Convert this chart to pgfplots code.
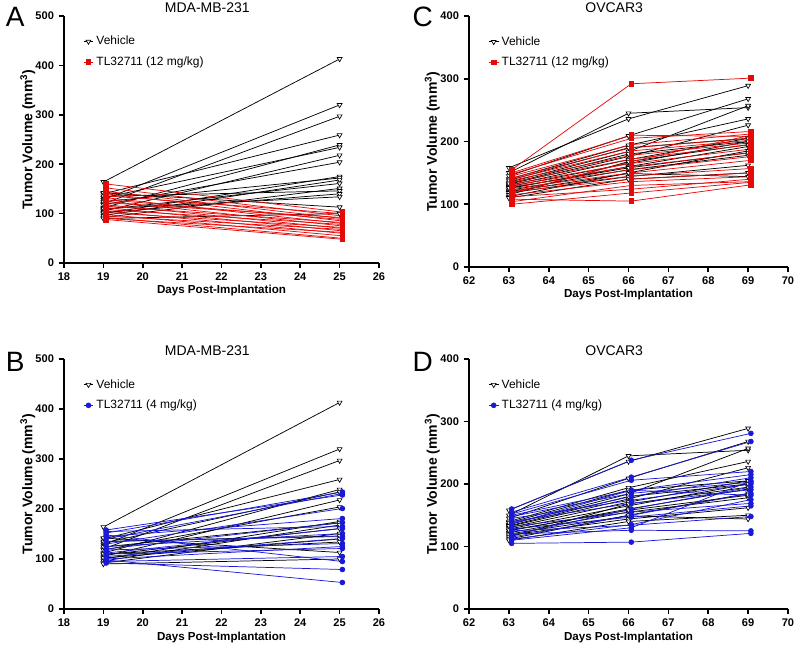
\documentclass[border=0pt]{standalone}
\usepackage{pgfplots}
\pgfplotsset{compat=1.18}
\usepackage{pgfplotstable}
\usepackage{fontspec}
\setmainfont{Liberation Sans}
\definecolor{tred}{RGB}{228,10,10}
\definecolor{tblue}{RGB}{25,25,215}

% Vehicle, MDA-MB-231 (days 19, 25)
\pgfplotstableread{
day m1 m2 m3 m4 m5 m6 m7 m8 m9 m10 m11 m12 m13 m14 m15 m16 m17 m18
19 164 128 120 140 112 132 105 118 100 124 96 108 92 135 102 110 142 90
25 413 320 297 259 239 234 218 204 175 172 168 161 151 146 140 134 113 100
}\vehAB
% TL32711 12 mg/kg, MDA-MB-231
\pgfplotstableread{
day m1 m2 m3 m4 m5 m6 m7 m8 m9 m10 m11 m12 m13 m14 m15 m16 m17 m18 m19 m20
19 160 152 145 140 136 132 128 125 122 118 115 112 108 105 102 98 95 92 90 88
25 103 95 90 85 100 80 88 75 92 70 82 65 78 60 72 55 68 50 62 48
}\redA
% TL32711 4 mg/kg, MDA-MB-231
\pgfplotstableread{
day m1 m2 m3 m4 m5 m6 m7 m8 m9 m10 m11 m12 m13 m14 m15 m16 m17 m18
19 152 140 158 130 145 120 155 112 125 135 105 118 100 110 95 148 92 98
25 234 231 228 201 181 173 165 161 151 145 141 131 125 121 105 95 79 53
}\blueB
% Vehicle, OVCAR3 (days 63, 66, 69)
\pgfplotstableread{
day m1 m2 m3 m4 m5 m6 m7 m8 m9 m10 m11 m12 m13 m14 m15 m16 m17 m18
63 158 150 145 140 135 132 130 128 125 122 120 118 115 112 138 126 110 133
66 236 245 209 194 184 176 171 165 160 155 149 144 168 150 190 158 140 180
69 289 254 268 236 257 226 205 200 192 178 144 162 195 185 205 182 150 200
}\vehCD
% TL32711 12 mg/kg, OVCAR3
\pgfplotstableread{
day m1 m2 m3 m4 m5 m6 m7 m8 m9 m10 m11 m12 m13 m14 m15 m16 m17 m18 m19 m20
63 155 150 148 145 142 140 138 135 132 130 128 125 122 120 115 112 108 104 100 118
66 292 210 205 195 190 185 178 172 165 160 155 150 145 140 136 124 105 130 118 168
69 301 208 216 212 205 202 198 195 188 182 176 170 157 150 144 140 131 136 135 210
}\redC
% TL32711 4 mg/kg, OVCAR3
\pgfplotstableread{
day m1 m2 m3 m4 m5 m6 m7 m8 m9 m10 m11 m12 m13 m14 m15 m16 m17 m18
63 160 155 152 150 148 145 140 136 132 128 125 120 105 118 115 112 110 138
66 238 211 206 190 185 174 169 190 155 147 134 126 107 160 150 135 130 180
69 281 268 220 215 203 200 191 182 169 165 148 125 121 195 185 175 205 210
}\blueD

\pgfplotsset{
  panel/.style={
    scale only axis,
    axis x line*=bottom, axis y line*=left,
    axis line style={line width=1.3pt, -},
    major tick style={line width=1.3pt, black},
    tick align=outside,
    major tick length=4pt,
    xticklabel={\textbf{\pgfmathprintnumber[assume math mode=true]{\tick}}},
    yticklabel={\textbf{\pgfmathprintnumber[assume math mode=true]{\tick}}},
    ticklabel style={font=\fontsize{8.3}{9}\selectfont},
    ylabel={Tumor Volume (mm\textsuperscript{3})},
    xlabel={Days Post-Implantation},
    xlabel style={font=\fontsize{8.7}{10}\selectfont\bfseries, at={(axis description cs:0.5,0)}, yshift=-21pt, anchor=center},
    ylabel style={font=\fontsize{10.5}{12}\selectfont\bfseries, at={(axis description cs:-0.115,0.5)}, anchor=center},
    title style={font=\fontsize{10.5}{12}\selectfont, at={(axis description cs:0.455,1)}, anchor=center},
    legend style={draw=none, fill=none, at={(axis description cs:0.06,0.93)}, anchor=north west,
      font=\fontsize{9}{11}\selectfont, row sep=3.4pt, inner sep=0pt},
    legend cell align=left,
    legend image code/.code={\draw[##1, mark repeat=2, mark phase=2] plot coordinates {(0cm,0cm) (0.13cm,0cm) (0.26cm,0cm)};},
  },
  veh/.style={black, line width=0.55pt, mark=triangle*, mark size=2.1pt, mark options={rotate=180, fill=white, solid, line width=0.5pt}},
  redt/.style={tred, line width=0.55pt, mark=square*, mark size=1.8pt, mark options={solid}},
  bluet/.style={tblue, line width=0.55pt, mark=*, mark size=1.8pt, mark options={solid}},
}

\begin{document}
\begin{tikzpicture}
% ---------- A ----------
\begin{axis}[panel, at={(48pt,290.25pt)}, anchor=south west,
  width=236.25pt, height=185.25pt,
  xmin=18, xmax=26, ymin=0, ymax=500,
  xtick={18,...,26}, ytick={0,100,...,500},
  title={MDA-MB-231}]
\addlegendimage{veh}
\addlegendentry{Vehicle}
\addlegendimage{redt}
\addlegendentry{TL32711 (12 mg/kg)}
\pgfplotsinvokeforeach{1,...,18}{\addplot[veh, forget plot] table[x=day, y=m#1]{\vehAB};}
\pgfplotsinvokeforeach{1,...,20}{\addplot[redt, forget plot] table[x expr=\thisrow{day}+0.07, y=m#1]{\redA};}
\end{axis}
% ---------- B ----------
\begin{axis}[panel, at={(48pt,30.75pt)}, anchor=south west,
  width=236.25pt, height=187.5pt,
  xmin=18, xmax=26, ymin=0, ymax=500,
  xtick={18,...,26}, ytick={0,100,...,500},
  title={MDA-MB-231}]
\addlegendimage{veh}
\addlegendentry{Vehicle}
\addlegendimage{bluet}
\addlegendentry{TL32711 (4 mg/kg)}
\pgfplotsinvokeforeach{1,...,18}{\addplot[veh, forget plot] table[x=day, y=m#1]{\vehAB};}
\pgfplotsinvokeforeach{1,...,18}{\addplot[bluet, forget plot] table[x expr=\thisrow{day}+0.07, y=m#1]{\blueB};}
\end{axis}
% ---------- C ----------
\begin{axis}[panel, at={(351.75pt,287.25pt)}, anchor=south west,
  width=239.25pt, height=188.25pt,
  xmin=62, xmax=70, ymin=0, ymax=400,
  xtick={62,...,70}, ytick={0,100,...,400},
  title={OVCAR3}]
\addlegendimage{veh}
\addlegendentry{Vehicle}
\addlegendimage{redt}
\addlegendentry{TL32711 (12 mg/kg)}
\pgfplotsinvokeforeach{1,...,18}{\addplot[veh, forget plot] table[x=day, y=m#1]{\vehCD};}
\pgfplotsinvokeforeach{1,...,20}{\addplot[redt, forget plot] table[x expr=\thisrow{day}+0.07, y=m#1]{\redC};}
\end{axis}
% ---------- D ----------
\begin{axis}[panel, at={(351.75pt,30.75pt)}, anchor=south west,
  width=239.25pt, height=187.5pt,
  xmin=62, xmax=70, ymin=0, ymax=400,
  xtick={62,...,70}, ytick={0,100,...,400},
  title={OVCAR3}]
\addlegendimage{veh}
\addlegendentry{Vehicle}
\addlegendimage{bluet}
\addlegendentry{TL32711 (4 mg/kg)}
\pgfplotsinvokeforeach{1,...,18}{\addplot[veh, forget plot] table[x=day, y=m#1]{\vehCD};}
\pgfplotsinvokeforeach{1,...,18}{\addplot[bluet, forget plot] table[x expr=\thisrow{day}+0.07, y=m#1]{\blueD};}
\end{axis}
% panel letters
\node[font=\fontsize{21}{21}\selectfont] at (11.5pt,474.5pt) {A};
\node[font=\fontsize{21}{21}\selectfont] at (11.5pt,216pt) {B};
\node[font=\fontsize{21}{21}\selectfont] at (317pt,474.5pt) {C};
\node[font=\fontsize{21}{21}\selectfont] at (317pt,216pt) {D};
\pgfresetboundingbox
\path[use as bounding box] (0pt,0pt) rectangle (600pt,487.5pt);
\end{tikzpicture}
\end{document}
